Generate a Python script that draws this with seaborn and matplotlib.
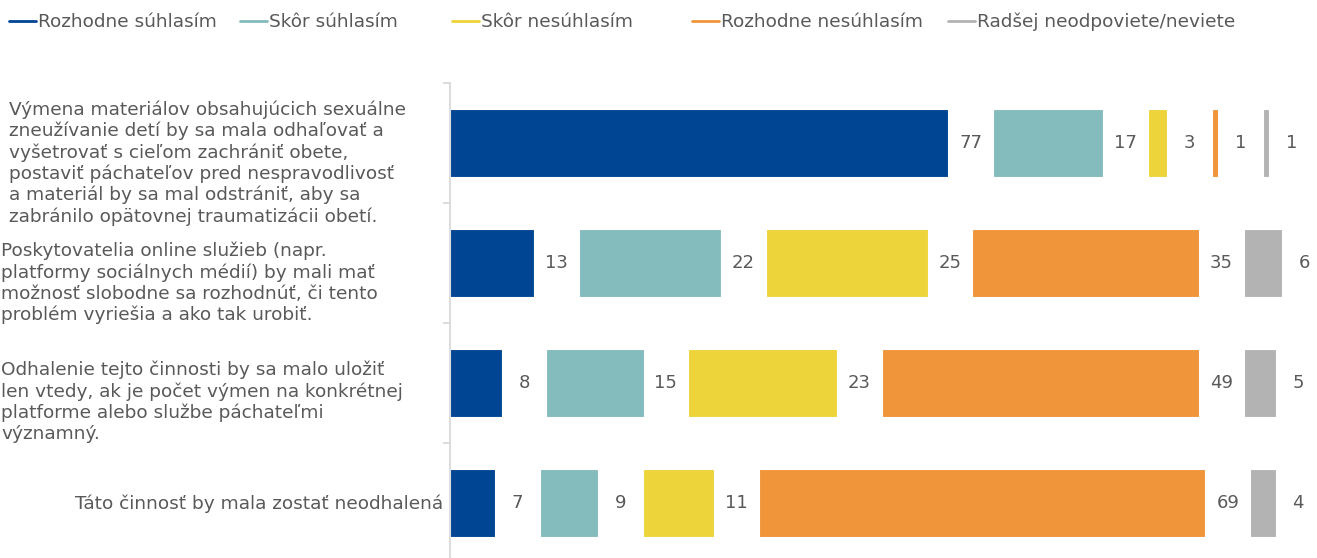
import matplotlib.pyplot as plt
import pandas as pd
import seaborn as sns
from matplotlib.lines import Line2D

statements = [
    "Výmena materiálov obsahujúcich sexuálne\nzneužívanie detí by sa mala odhaľovať a\nvyšetrovať s cieľom zachrániť obete,\npostaviť páchateľov pred nespravodlivosť\na materiál by sa mal odstrániť, aby sa\nzabránilo opätovnej traumatizácii obetí.",
    "Poskytovatelia online služieb (napr.\nplatformy sociálnych médií) by mali mať\nmožnosť slobodne sa rozhodnúť, či tento\nproblém vyriešia a ako tak urobiť.",
    "Odhalenie tejto činnosti by sa malo uložiť\nlen vtedy, ak je počet výmen na konkrétnej\nplatforme alebo službe páchateľmi\nvýznamný.",
    "Táto činnosť by mala zostať neodhalená",
]
responses = ["Rozhodne súhlasím", "Skôr súhlasím", "Skôr nesúhlasím",
             "Rozhodne nesúhlasím", "Radšej neodpoviete/neviete"]

agree_strongly = [77, 13, 8, 7]
agree_rather = [17, 22, 15, 9]
disagree_rather = [3, 25, 23, 11]
disagree_strongly = [1, 35, 49, 69]
no_answer = [1, 6, 5, 4]

colors = ["#004494", "#84BBBC", "#ECD43A", "#F0953A", "#B3B3B3"]
text_color = "#595959"
gap = 6.9  # space left after each segment for its number

series = [agree_strongly, agree_rather, disagree_rather, disagree_strongly, no_answer]
rows = []
for i, st in enumerate(statements):
    left = 0
    for resp, vals in zip(responses, series):
        rows.append({"statement": st, "response": resp, "value": vals[i], "left": left})
        left += vals[i] + gap
df = pd.DataFrame(rows)

sns.set_style("white")
plt.rcParams["font.family"] = ["DejaVu Sans"]

W, H = 1317, 558
fig = plt.figure(figsize=(W / 100, H / 100), dpi=100)
ax = fig.add_axes([450 / W, 0, 870.6 / W, (H - 83) / H])

for resp, col in zip(responses, colors):
    sub = df[df["response"] == resp]
    sns.barplot(data=sub, x="value", y="statement", order=statements, orient="h",
                left=sub["left"].to_numpy(), color=col, saturation=1, width=0.57,
                errorbar=None, edgecolor="white", linewidth=0.8, ax=ax)
    for y, (v, l) in enumerate(zip(sub["value"], sub["left"])):
        ax.text(l + v + gap / 2, y, str(v), ha="center", va="center",
                fontsize=13, color=text_color)

ax.set_xlim(0, 100 + 5 * gap)
ax.set_ylim(3.458, -0.5)
ax.set_xticks([])
ax.set_yticks([])
ax.set_yticks([-0.5, 0.5, 1.5, 2.5], minor=True)
ax.tick_params(axis="y", which="minor", left=True, length=5, width=1.3, color="#D9D9D9")
ax.set_xlabel("")
ax.set_ylabel("")
for s in ["top", "right", "bottom"]:
    ax.spines[s].set_visible(False)
ax.spines["left"].set_color("#D9D9D9")
ax.spines["left"].set_linewidth(1.3)

# category labels, placed like in the original
label_pos = [(9, 163, "left"), (1, 283, "left"), (1, 402, "left"), (443, 504, "right")]
for st, (px, py, ha) in zip(statements, label_pos):
    fig.text(px / W, 1 - py / H, st, ha=ha, va="center", multialignment="left",
             fontsize=13.3, color=text_color, linespacing=1.2)

# legend
legend_x = [9, 240, 452, 692, 948]
for x0, resp, col in zip(legend_x, responses, colors):
    fig.add_artist(Line2D([x0 / W, (x0 + 27) / W], [1 - 21 / H] * 2, color=col,
                          lw=2, transform=fig.transFigure))
    fig.text((x0 + 29) / W, 1 - 22 / H, resp, ha="left", va="center",
             fontsize=13.3, color=text_color)

fig.savefig("out.png", dpi=100)
